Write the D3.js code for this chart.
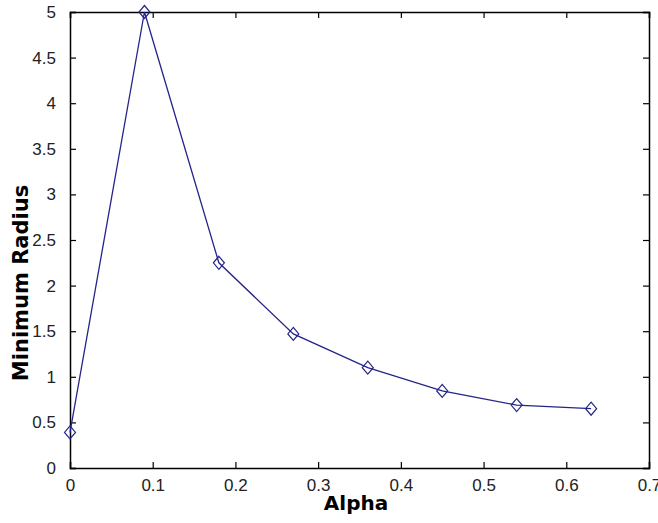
<!DOCTYPE html>
<html>
<head>
<meta charset="utf-8">
<script src="https://cdn.jsdelivr.net/npm/d3@7"></script>
<style>
  body { margin: 0; background: #fff; }
  text { font-family: "Liberation Sans", Arial, sans-serif; }
</style>
</head>
<body>
<div id="chart"></div>
<script>
// values
let alpha = [0, 0.09, 0.18, 0.27, 0.36, 0.45, 0.54, 0.63]
let minRadius = [0.39, 5.0, 2.25, 1.47, 1.10, 0.845, 0.69, 0.65]
let xTicks = [0, 0.1, 0.2, 0.3, 0.4, 0.5, 0.6, 0.7]
let yTicks = [0, 0.5, 1, 1.5, 2, 2.5, 3, 3.5, 4, 4.5, 5]

let data = alpha.map((a, i) => ({"alpha": a, "radius": minRadius[i]}))

let margin = {top: 12, right: 9, bottom: 55, left: 70},
    width = 658 - margin.left - margin.right,
    height = 523 - margin.top - margin.bottom;

let svg = d3.select("#chart")
    .append("svg")
    .attr("width", 658)
    .attr("height", 523)

let g = svg.append("g")
    .attr("transform", "translate(" + margin.left + "," + margin.top + ")");

let x = d3.scaleLinear().domain([0, 0.7]).range([0, width])
let y = d3.scaleLinear().domain([0, 5]).range([height, 0])

let fmt = d => String(d)

// ticks point inward, on all four sides
let xAxisBottom = g.append("g")
    .attr("transform", "translate(0," + height + ")")
    .call(d3.axisBottom(x).tickValues(xTicks).tickSize(-6).tickPadding(11).tickFormat(fmt))
let xAxisTop = g.append("g")
    .call(d3.axisTop(x).tickValues(xTicks).tickSize(-6).tickFormat(""))
let yAxisLeft = g.append("g")
    .call(d3.axisLeft(y).tickValues(yTicks).tickSize(-6).tickPadding(14).tickFormat(fmt))
let yAxisRight = g.append("g")
    .attr("transform", "translate(" + width + ",0)")
    .call(d3.axisRight(y).tickValues(yTicks).tickSize(-6).tickFormat(""))

g.selectAll(".domain").attr("stroke", "#000").attr("stroke-width", 1.5)
g.selectAll(".tick line").attr("stroke", "#000").attr("stroke-width", 1.2)
g.selectAll(".tick text")
    .attr("fill", "#222")
    .style("font-size", "17px")
    .style("font-family", "'Liberation Sans', Arial, sans-serif")

// the line
g.append("path")
    .datum(data)
    .attr("fill", "none")
    .attr("stroke", "#24248a")
    .attr("stroke-width", 1.3)
    .attr("d", d3.line()
        .x(d => x(d["alpha"]))
        .y(d => y(d["radius"])))

// diamond markers
g.selectAll(".marker")
    .data(data)
    .enter()
    .append("path")
    .attr("class", "marker")
    .attr("fill", "none")
    .attr("stroke", "#24248a")
    .attr("stroke-width", 1.2)
    .attr("d", "M0,-6.5L5.5,0L0,6.5L-5.5,0Z")
    .attr("transform", d => "translate(" + x(d["alpha"]) + "," + y(d["radius"]) + ")")

// axis labels
svg.append("text")
    .attr("x", 356)
    .attr("y", 510)
    .attr("text-anchor", "middle")
    .style("font-family", "'DejaVu Sans', sans-serif")
    .style("font-weight", "bold")
    .style("font-size", "20px")
    .text("Alpha")

svg.append("text")
    .attr("transform", "translate(28,283) rotate(-90)")
    .attr("text-anchor", "middle")
    .style("font-family", "'DejaVu Sans', sans-serif")
    .style("font-weight", "bold")
    .style("font-size", "21px")
    .text("Minimum Radius")
</script>
</body>
</html>
